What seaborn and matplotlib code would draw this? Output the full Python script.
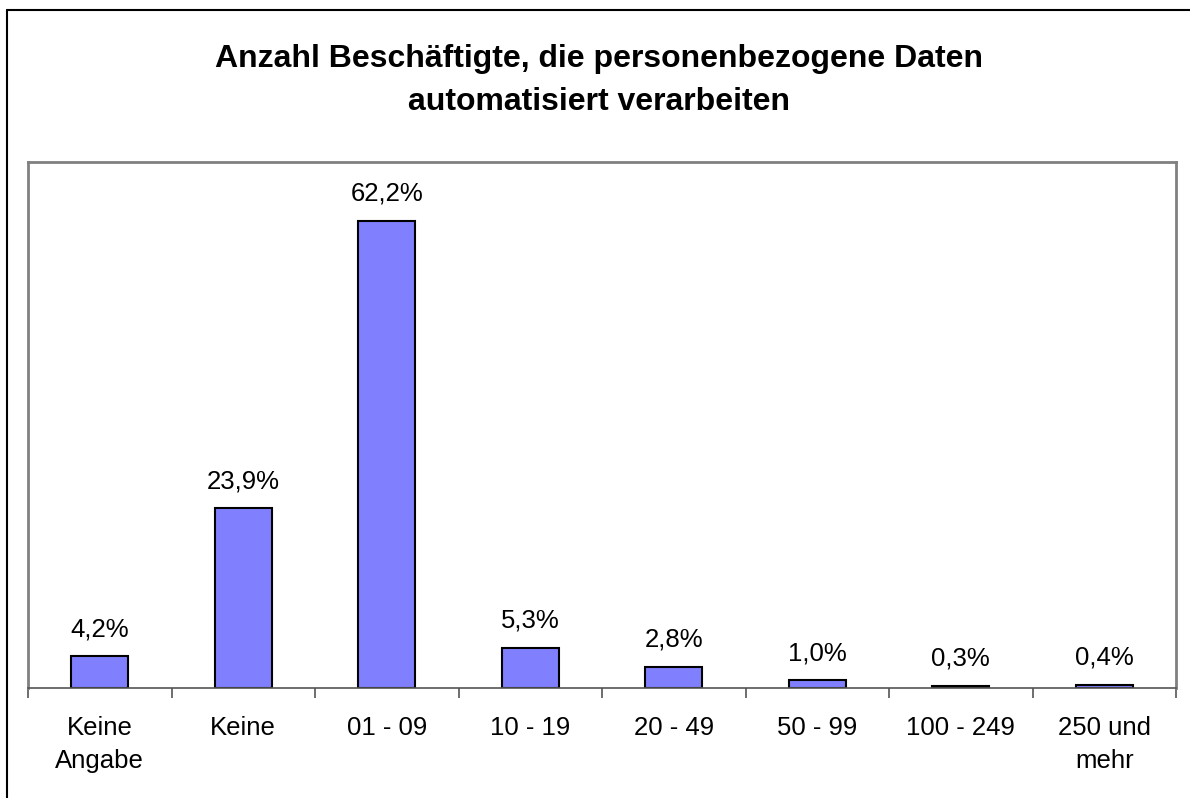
import matplotlib
matplotlib.use("Agg")
import matplotlib.pyplot as plt
import seaborn as sns
import pandas as pd
from matplotlib.lines import Line2D

categories = ["Keine\nAngabe", "Keine", "01 - 09", "10 - 19", "20 - 49", "50 - 99", "100 - 249", "250 und\nmehr"]
values = [4.2, 23.9, 62.2, 5.3, 2.8, 1.0, 0.3, 0.4]
title = "Anzahl Beschäftigte, die personenbezogene Daten\nautomatisiert verarbeiten"

sns.set_theme(style="white")
plt.rcParams["font.family"] = ["Liberation Sans", "DejaVu Sans"]
plt.rcParams["text.color"] = "black"

df = pd.DataFrame({"cat": categories, "val": values})

fig = plt.figure(figsize=(11.9, 7.98), dpi=100)
ax = fig.add_axes([28/1190, 1-688/798, (1176-28)/1190, (688-162)/798])

sns.barplot(data=df, x="cat", y="val", color="#8080FF", edgecolor="black",
            linewidth=1.5, width=0.4, saturation=1, ax=ax)

ax.set_ylim(0, 70)
ax.set_xlim(-0.5, len(categories) - 0.5)
ax.set_xlabel("")
ax.set_ylabel("")
ax.set_yticks([])

for s in ["left", "top", "right"]:
    ax.spines[s].set_color("#808080")
    ax.spines[s].set_linewidth(2)
ax.spines["bottom"].set_color("#555555")
ax.spines["bottom"].set_linewidth(1.2)

ax.set_xticks(range(len(categories)))
ax.set_xticklabels(categories, fontsize=18.5, linespacing=1.45, color="black")
ax.tick_params(axis="x", which="major", length=0, pad=20.5, labelcolor="black")
ax.set_xticks([i - 0.5 for i in range(len(categories) + 1)], minor=True)
ax.tick_params(axis="x", which="minor", length=7, width=1.2, color="#555555", bottom=True, direction="out")

labels = [f"{v:.1f}".replace(".", ",") + "%" for v in values]
ax.bar_label(ax.containers[0], labels=labels, padding=11, fontsize=18.5, color="black")

fig.text(0.503, 1 - 80.5/798, title, ha="center", va="center", fontsize=23,
         fontweight="bold", linespacing=1.55, color="black")

fig.lines.append(Line2D([7/1190, 7/1190], [0, 1 - 10/798], transform=fig.transFigure,
                        color="black", linewidth=1.5))
fig.lines.append(Line2D([7/1190, 1], [1 - 10/798, 1 - 10/798], transform=fig.transFigure,
                        color="black", linewidth=1.5))

fig.savefig("out.png", dpi=100)
